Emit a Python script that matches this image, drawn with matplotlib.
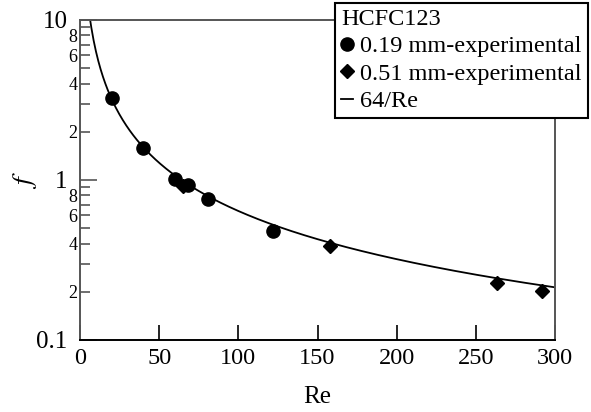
import numpy as np
import matplotlib.pyplot as plt

plt.rcParams['font.family'] = ['Liberation Serif', 'DejaVu Serif']
plt.rcParams['mathtext.fontset'] = 'stix'

# datos experimentales HCFC123
re_019 = [20.2, 39.8, 60.0, 68.5, 80.8, 121.9]
f_019 = [3.25, 1.58, 1.01, 0.93, 0.76, 0.48]
re_051 = [65.3, 158.0, 263.5, 291.5]
f_051 = [0.917, 0.387, 0.228, 0.201]

# curva laminar 64/Re
re_teo = np.linspace(6.4, 300, 400)
f_teo = 64.0 / re_teo

fig = plt.figure(figsize=(5.91, 4.12), dpi=100)
ax = fig.add_axes([0.1354, 0.1748, 0.8037, 0.7767])

ax.plot(re_teo, f_teo, color='black', lw=1.3, label='64/Re', zorder=2)
ax.plot(re_051, f_051, 'D', color='black', ms=7, label='0.51 mm-experimental', zorder=3)
ax.plot(re_019, f_019, 'o', color='black', ms=9.5, label='0.19 mm-experimental', zorder=4)

ax.set_yscale('log')
ax.set_xlim(0, 300)
ax.set_ylim(0.1, 10)

ax.set_xticks([0, 50, 100, 150, 200, 250, 300])
ax.set_xticklabels(['0', '50', '100', '150', '200', '250', '300'], fontsize=17.5)
ax.set_yticks([0.1, 1, 10])
ax.set_yticklabels(['0.1', '1', '10'], fontsize=18)
menores = [0.2, 0.3, 0.4, 0.5, 0.6, 0.7, 0.8, 0.9, 2, 3, 4, 5, 6, 7, 8, 9]
etiquetas = ['2', '', '4', '', '6', '', '8', '', '2', '', '4', '', '6', '', '8', '']
ax.set_yticks(menores, minor=True)
ax.set_yticklabels(etiquetas, minor=True, fontsize=13)

ax.tick_params(axis='x', which='major', direction='in', length=11, width=1.2, pad=6)
ax.tick_params(axis='y', which='major', direction='in', length=12, width=1.2, pad=9, color='#555555')
ax.tick_params(axis='y', which='minor', direction='in', length=7, width=1.2, pad=2, color='#555555')

for lado in ['left', 'top', 'right']:
    ax.spines[lado].set_color('#555555')
    ax.spines[lado].set_linewidth(1.4)
ax.spines['bottom'].set_color('black')
ax.spines['bottom'].set_linewidth(1.4)

ax.set_xlabel('Re', fontsize=18, labelpad=12)
ax.set_ylabel('$f$', fontsize=20, rotation=90, va='center')
ax.yaxis.set_label_coords(-0.116, 0.5)

h, l = ax.get_legend_handles_labels()
orden = [2, 1, 0]
leg = ax.legend([h[i] for i in orden], [l[i] for i in orden], title='HCFC123',
                loc='upper right', bbox_to_anchor=(588 / 591, 1 - 3 / 412),
                bbox_transform=fig.transFigure, fontsize=17.5, title_fontsize=17.5,
                alignment='left', frameon=True, fancybox=False, framealpha=1,
                edgecolor='black', handlelength=0.5, handletextpad=0.3,
                borderpad=0.25, labelspacing=0.22, borderaxespad=0)
leg.get_frame().set_linewidth(1.5)
leg.set_zorder(10)

plt.savefig('out.png', dpi=100)
